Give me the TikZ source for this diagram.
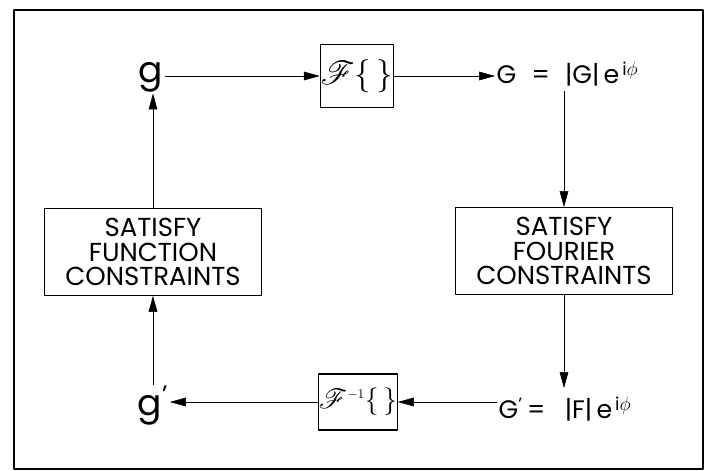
\documentclass[tikz,border=0pt]{standalone}
\usepackage{fontspec}
\usepackage{mathrsfs}
\setmainfont{Poppins}
\usetikzlibrary{positioning,arrows.meta}

\tikzset{
  lbl/.style={inner sep=1pt, font=\fontsize{19}{22}\selectfont},
  opbox/.style={draw, line width=0.8pt, minimum width=55pt, minimum height=47pt, inner sep=0pt, font=\fontsize{23}{24}\selectfont},
  cbox/.style={draw, line width=0.8pt, align=center, minimum width=163pt, minimum height=65pt, inner sep=1pt, font=\fontsize{19.5}{18.4}\selectfont},
}

\begin{document}
\begin{tikzpicture}[x=0.75pt,y=-0.75pt, line join=round, >={Triangle[length=12pt,width=6.5pt]}]
\useasboundingbox (0,0) rectangle (707,471);
\draw[line width=1.5pt] (14,10) rectangle (703,469);

% top row
\node[lbl, font=\fontsize{27}{30}\selectfont] (g) at (151,77) {g};
\node[opbox] (Fop) at (357,76) {$\mathscr{F}\{\,\}$};
\node[lbl, anchor=west] (Geq) at (495,74) {G\,\, =\,\, |G|\,e\textsuperscript{\,i$\phi$}};
\coordinate (Gtop) at (564,91);

% boxes
\node[cbox] (lbox) at (153,252) {SATISFY\\FUNCTION\\CONSTRAINTS};
\node[cbox] (rbox) at (564,251) {SATISFY\\FOURIER\\CONSTRAINTS};

% bottom row
\node[lbl, font=\fontsize{27}{30}\selectfont] (gp) at (153,406) {g\textsuperscript{'}};
\node[opbox, minimum height=42pt, font=\fontsize{20}{24}\selectfont] (Finv) at (358,402) {$\mathscr{F}^{\scriptscriptstyle -1}\{\,\}$};
\node[lbl, anchor=west] (Gp) at (497,409) {G\textsuperscript{'}\,=\,\,\, |F|\,e\textsuperscript{\,i$\phi$}};
\coordinate (Fbot) at (564,388);

\draw[->] (g.east |- Fop) -- (Fop.west);
\draw[->] (Fop.east) -- (Geq.west |- Fop);
\draw[->] (Gtop) -- (rbox.north);
\draw[->] (rbox.south) -- (Fbot);
\draw[->] (Gp.west |- Finv) -- (Finv.east);
\draw[->] (Finv.west) -- (gp.east |- Finv);
\draw[->] (gp.north -| lbox) -- (lbox.south);
\draw[->] (lbox.north) -- (g.south -| lbox);
\end{tikzpicture}
\end{document}
